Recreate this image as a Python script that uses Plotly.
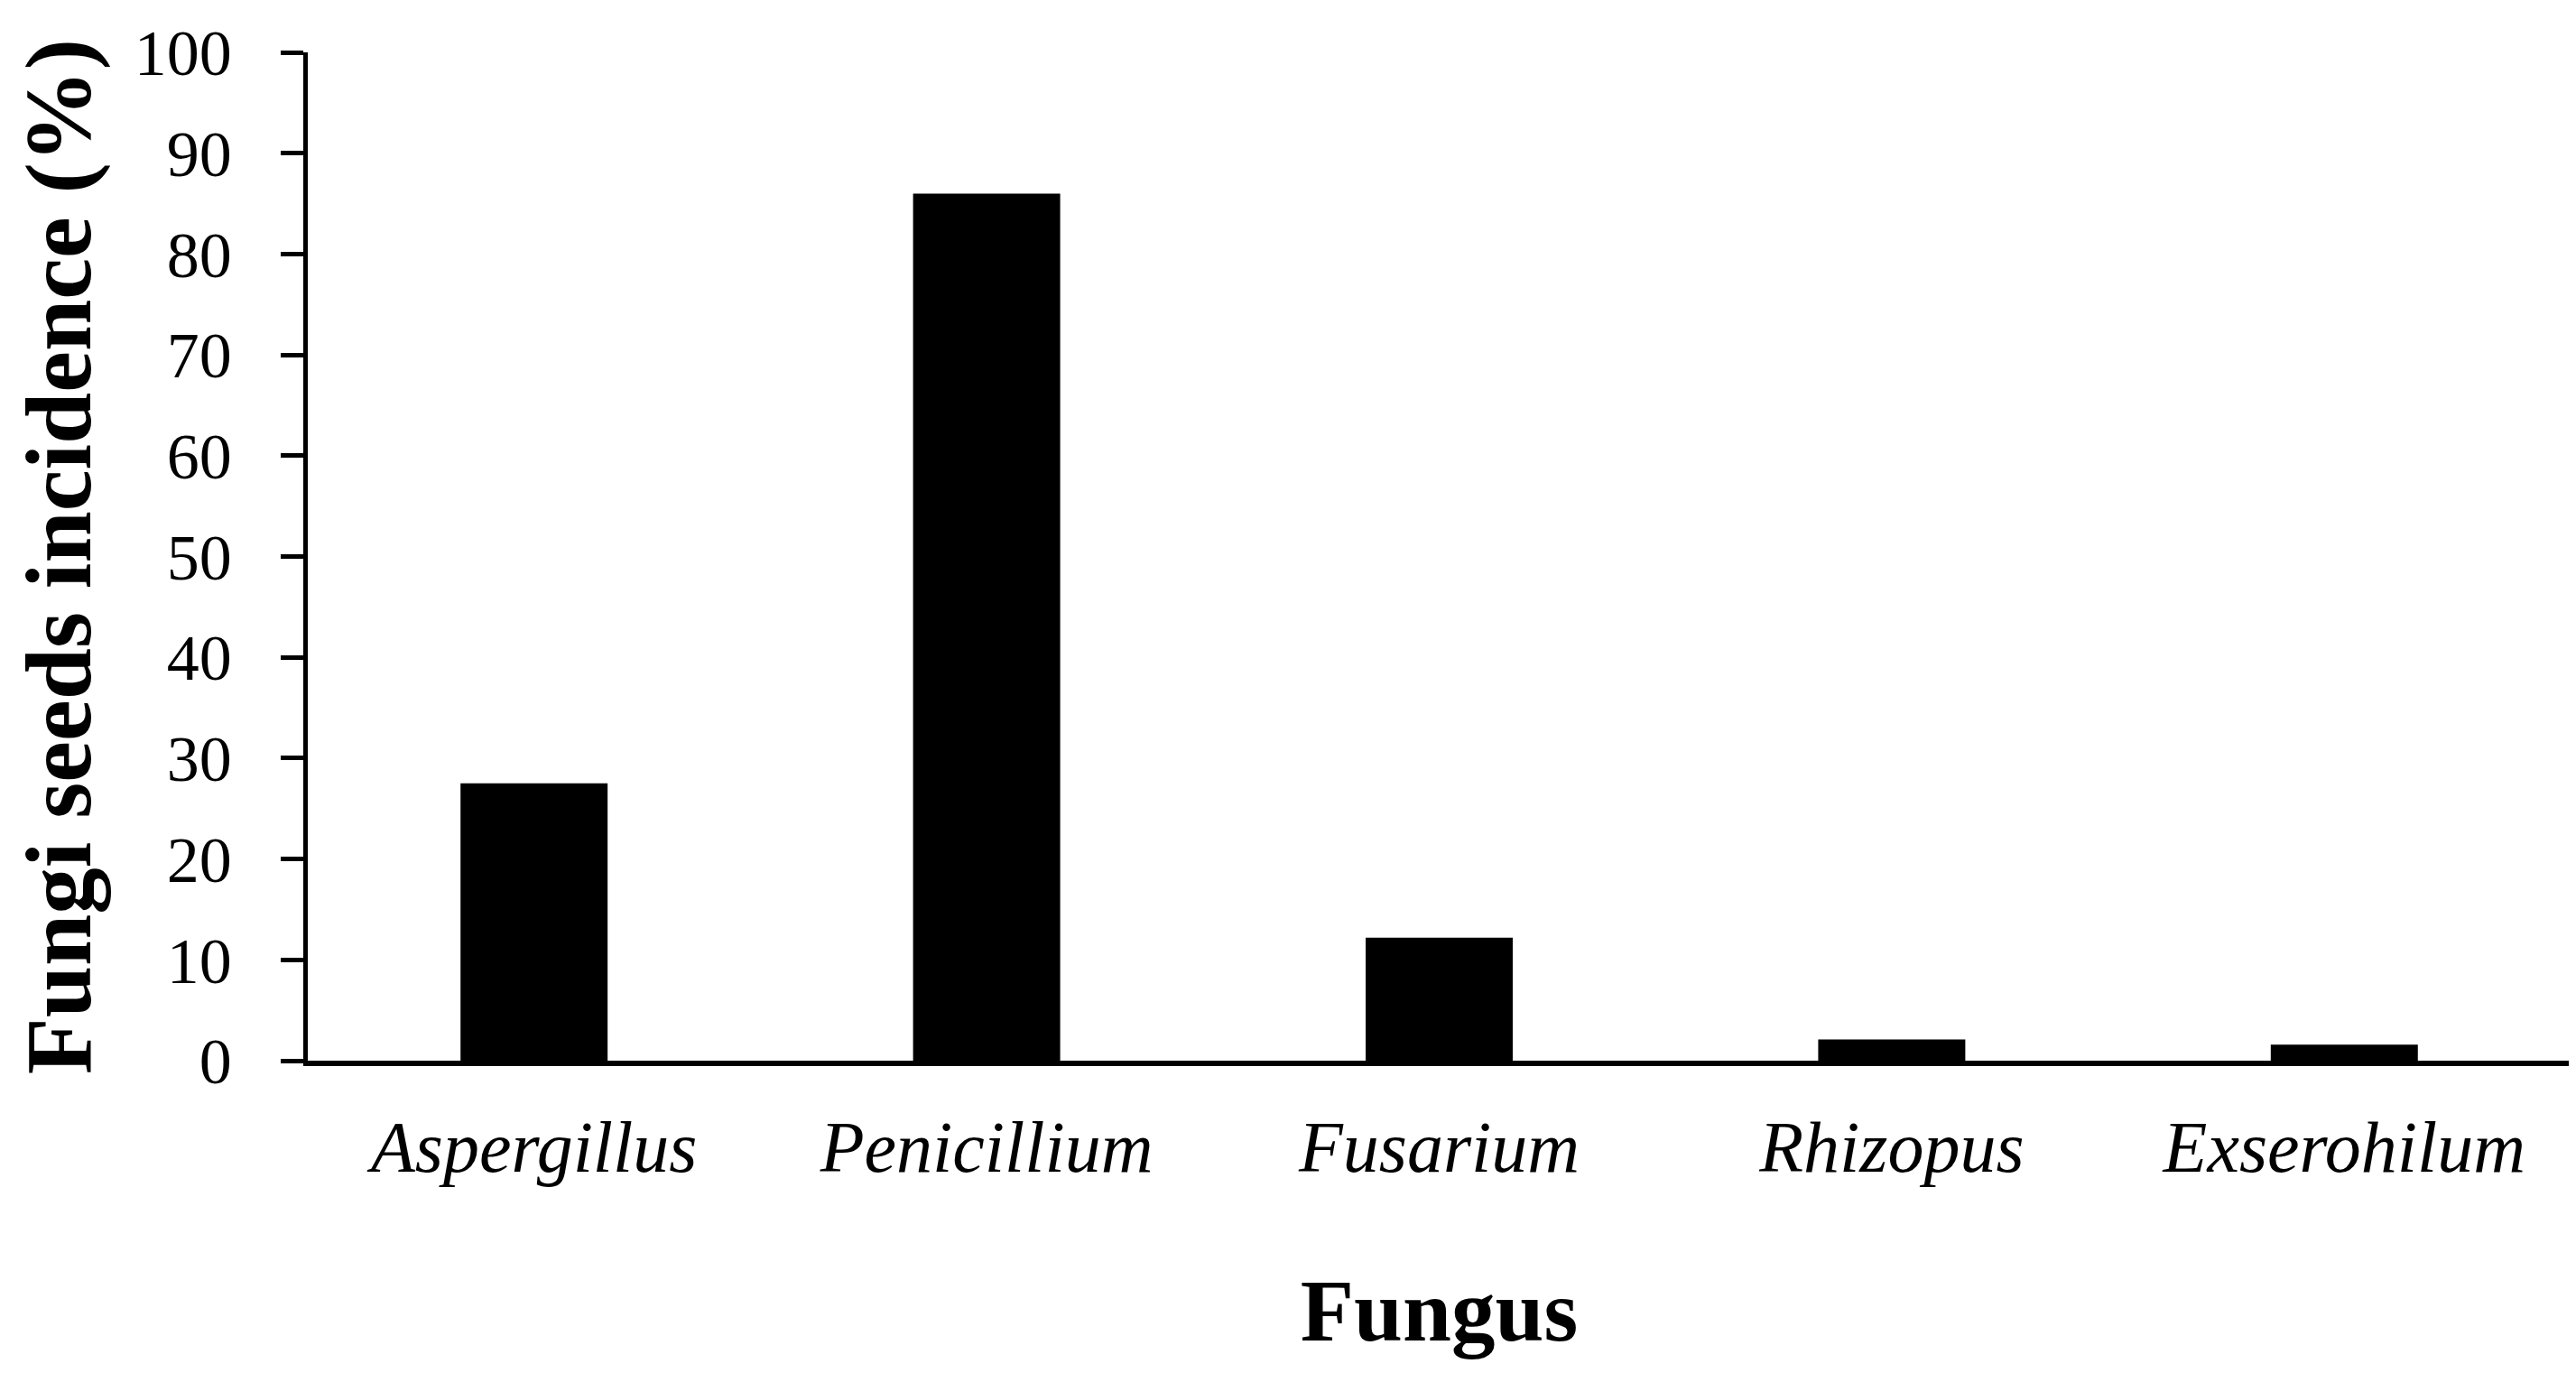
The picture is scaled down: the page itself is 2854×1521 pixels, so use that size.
import plotly.graph_objects as go

# fungi detected on seeds, incidence in %
fungus = ["Aspergillus", "Penicillium", "Fusarium", "Rhizopus", "Exserohilum"]
incidence = [27.5, 86.0, 12.2, 2.1, 1.6]
y_ticks = [0, 10, 20, 30, 40, 50, 60, 70, 80, 90, 100]

labels = [f"<i>{f}</i>" for f in fungus]

fig = go.Figure()
fig.add_trace(go.Bar(x=labels, y=incidence, marker_color="black",
                     marker_line_width=0, width=0.325))

fig.update_layout(
    template=None,
    width=2854, height=1521,
    paper_bgcolor="white", plot_bgcolor="white",
    margin=dict(l=333, r=14, t=50, b=354),
    showlegend=False,
    font=dict(family="Liberation Serif", color="black"),
)
fig.update_xaxes(
    showline=True, linecolor="black", linewidth=6,
    showgrid=False, ticks="", ticklabelstandoff=21,
    tickfont=dict(size=80, family="Liberation Serif"),
    title=dict(text="<b>Fungus</b>", standoff=105,
               font=dict(size=97, family="Liberation Serif")),
)
fig.update_yaxes(
    range=[0, 100], tickvals=y_ticks,
    showline=True, linecolor="black", linewidth=4.5,
    showgrid=False, zeroline=False,
    ticks="outside", ticklen=25, tickwidth=4.5, tickcolor="black",
    ticklabelstandoff=40,
    tickfont=dict(size=72, family="Liberation Serif"),
    title=dict(text="<b>Fungi seeds incidence (%)</b>", standoff=17,
               font=dict(size=103, family="Liberation Serif")),
)

fig.write_html("out.html")
